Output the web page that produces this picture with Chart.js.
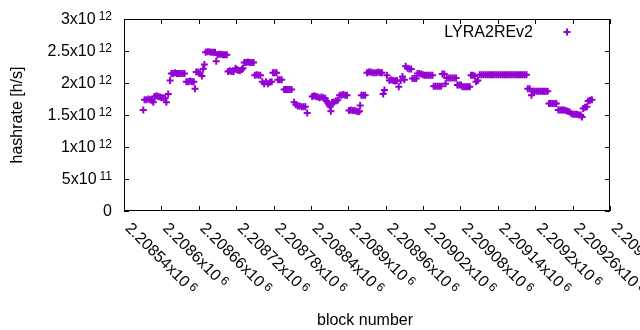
<!DOCTYPE html>
<html>
<head>
<meta charset="utf-8">
<script src="https://cdn.jsdelivr.net/npm/chart.js@4.4.1/dist/chart.umd.min.js"></script>
<style>
  html, body { margin: 0; padding: 0; background: #fff; }
  #wrap { width: 640px; height: 330px; }
</style>
</head>
<body>
<div id="wrap"><canvas id="hashChart" width="640" height="330"></canvas></div>
<script>
// block numbers (x) and hashrate in units of 10^12 h/s (y)
var blockNumbers = [
  2208571, 2208573, 2208576, 2208579, 2208582, 2208585, 2208587, 2208589, 2208592, 2208595, 2208598,
  2208600, 2208603, 2208606, 2208608, 2208611, 2208614,
  2208616, 2208619, 2208622, 2208625, 2208628, 2208631, 2208634, 2208637,
  2208640, 2208643, 2208646, 2208649, 2208652, 2208654,
  2208656, 2208659, 2208662, 2208665, 2208667, 2208669,
  2208671, 2208674, 2208677, 2208680, 2208683, 2208686, 2208688,
  2208690, 2208693, 2208696, 2208699, 2208702, 2208705,
  2208707, 2208710, 2208713, 2208716, 2208719, 2208721,
  2208723, 2208726, 2208729, 2208731,
  2208733, 2208736, 2208739, 2208742, 2208745, 2208748,
  2208750, 2208753, 2208756, 2208759,
  2208762, 2208765, 2208768, 2208771, 2208774, 2208777,
  2208779, 2208782, 2208785, 2208787, 2208790, 2208793,
  2208797, 2208800, 2208803, 2208806, 2208809,
  2208813, 2208816, 2208819, 2208822, 2208825, 2208828, 2208831, 2208834,
  2208842, 2208845, 2208848, 2208851, 2208854, 2208857, 2208860, 2208863,
  2208865, 2208867, 2208869, 2208871, 2208872,
  2208874, 2208877, 2208880, 2208883,
  2208886, 2208889, 2208892, 2208895, 2208898,
  2208901, 2208904, 2208907, 2208910, 2208913, 2208916, 2208918,
  2208919, 2208921, 2208924, 2208927,
  2208930, 2208933, 2208936, 2208939, 2208942, 2208945, 2208948, 2208951, 2208954,
  2208956, 2208958, 2208962,
  2208966, 2208969, 2208972, 2208975, 2208978, 2208981, 2208984, 2208987, 2208990,
  2208992, 2208995, 2208998, 2209001,
  2209003, 2209006, 2209009,
  2209011, 2209014, 2209017, 2209020, 2209023, 2209026, 2209029, 2209032, 2209035,
  2209037, 2209040, 2209043, 2209046, 2209049,
  2209051, 2209054, 2209056,
  2209058, 2209061, 2209064, 2209067, 2209070, 2209073,
  2209075, 2209078, 2209081,
  2209083, 2209086, 2209089, 2209092, 2209095,
  2209097, 2209100, 2209103, 2209105, 2209108,
  2209111, 2209114, 2209117, 2209120, 2209123, 2209126, 2209129, 2209132, 2209135, 2209138, 2209141, 2209144, 2209147,
  2209150, 2209153, 2209156, 2209159, 2209162, 2209165, 2209168, 2209171, 2209174, 2209177, 2209180, 2209183, 2209186,
  2209188, 2209191, 2209194,
  2209196, 2209199, 2209202, 2209205, 2209208, 2209211, 2209214, 2209217, 2209220,
  2209222, 2209225, 2209228, 2209231, 2209234,
  2209237, 2209240, 2209243, 2209246,
  2209249, 2209252, 2209255, 2209258, 2209261, 2209264, 2209267,
  2209270, 2209273, 2209275, 2209277, 2209280, 2209283,
  2209285, 2209288, 2209291
];

var hashrateTH = [
  1.58, 1.74, 1.74, 1.75, 1.74, 1.73, 1.70, 1.79, 1.80, 1.79, 1.78,
  1.77, 1.77, 1.76, 1.70, 1.83, 2.04,
  2.15, 2.15, 2.16, 2.15, 2.15, 2.15, 2.15, 2.15,
  2.02, 2.02, 2.03, 2.02, 2.02, 1.91,
  2.17, 2.17, 2.15, 2.11, 2.22, 2.29,
  2.48, 2.49, 2.49, 2.48, 2.48, 2.48, 2.34,
  2.44, 2.45, 2.45, 2.44, 2.44, 2.44,
  2.18, 2.19, 2.18, 2.18, 2.23, 2.21,
  2.20, 2.19, 2.21, 2.23,
  2.32, 2.32, 2.33, 2.32, 2.32, 2.32,
  2.12, 2.13, 2.12, 2.12,
  2.02, 1.99, 2.02, 1.99, 2.01, 2.02,
  2.16, 2.16, 2.16, 2.05, 2.05, 2.05,
  1.90, 1.90, 1.90, 1.90, 1.90,
  1.70, 1.66, 1.64, 1.64, 1.63, 1.63, 1.63, 1.53,
  1.79, 1.80, 1.79, 1.78, 1.77, 1.78, 1.77, 1.76,
  1.72, 1.69, 1.66, 1.63, 1.56,
  1.70, 1.70, 1.72, 1.73,
  1.81, 1.81, 1.82, 1.81, 1.81,
  1.57, 1.58, 1.57, 1.57, 1.56, 1.55, 1.56,
  1.65, 1.81, 1.81, 1.81,
  2.16, 2.17, 2.17, 2.16, 2.16, 2.16, 2.17, 2.16, 2.16,
  1.83, 1.89, 2.12,
  2.04, 2.05, 2.04, 2.03, 2.04, 1.94, 2.04, 2.10, 2.05,
  2.26, 2.23, 2.22, 2.22,
  2.07, 2.07, 2.07,
  2.15, 2.15, 2.14, 2.13, 2.12, 2.12, 2.12, 2.12, 2.12,
  1.95, 1.95, 1.95, 1.95, 1.95,
  2.14, 2.14, 1.99,
  2.08, 2.08, 2.08, 2.08, 2.08, 2.08,
  1.97, 1.97, 1.97,
  1.94, 1.94, 1.94, 1.94, 1.94,
  2.12, 2.12, 2.11, 2.02, 2.04,
  2.13, 2.13, 2.13, 2.13, 2.13, 2.13, 2.13, 2.13, 2.13, 2.13, 2.13, 2.13, 2.13,
  2.13, 2.13, 2.13, 2.13, 2.13, 2.13, 2.13, 2.13, 2.13, 2.13, 2.13, 2.13, 2.13,
  1.91, 1.91, 1.81,
  1.87, 1.87, 1.87, 1.87, 1.87, 1.87, 1.87, 1.87, 1.87,
  1.68, 1.68, 1.68, 1.68, 1.68,
  1.58, 1.58, 1.58, 1.58,
  1.57, 1.56, 1.55, 1.52, 1.51, 1.51, 1.51,
  1.50, 1.50, 1.47, 1.60, 1.62, 1.63,
  1.72, 1.73, 1.74
];

// tick positions and labels (mantissa + superscript exponent)
var xTickValues = [2208540, 2208600, 2208660, 2208720, 2208780, 2208840, 2208900,
                   2208960, 2209020, 2209080, 2209140, 2209200, 2209260, 2209320];
var xTickMant = ['2.20854x10', '2.2086x10', '2.20866x10', '2.20872x10', '2.20878x10', '2.20884x10', '2.2089x10',
                 '2.20896x10', '2.20902x10', '2.20908x10', '2.20914x10', '2.2092x10', '2.20926x10', '2.20932x10'];
var xTickExp = '6';

var yTickValues = [0, 5e11, 1e12, 1.5e12, 2e12, 2.5e12, 3e12];
var yTickMant = ['0', '5x10', '1x10', '1.5x10', '2x10', '2.5x10', '3x10'];
var yTickExp = ['', '11', '12', '12', '12', '12', '12'];

var seriesName = 'LYRA2REv2';
var xTitle = 'block number';
var yTitle = 'hashrate [h/s]';
var seriesColor = '#9400D3';

var FONT = '"Liberation Sans", Arial, sans-serif';

// draws "mantissa" + raised exponent, starting at x (or ending at x when alignRight)
function drawPowerText(ctx, mant, exp, x, y, alignRight) {
    ctx.font = '16px ' + FONT;
    var mw = ctx.measureText(mant).width;
    ctx.font = '12px ' + FONT;
    var ew = exp ? ctx.measureText(exp).width + 3 : 0;
    var start = alignRight ? x - mw - ew : x;
    ctx.textAlign = 'left';
    ctx.textBaseline = 'alphabetic';
    ctx.font = '16px ' + FONT;
    ctx.fillText(mant, start, y);
    if (exp) {
        ctx.font = '12px ' + FONT;
        ctx.fillText(exp, start + mw + 3, y - 4);
    }
}

// gnuplot-like frame, inward ticks, labels, titles and key
var gnuplotFrame = {
    id: 'gnuplotFrame',
    afterDraw: function(chart) {
        var ctx = chart.ctx;
        var ca = chart.chartArea;
        var xs = chart.scales.x;
        var ys = chart.scales.y;
        ctx.save();

        ctx.strokeStyle = '#000';
        ctx.lineWidth = 1;
        ctx.beginPath();
        ctx.rect(ca.left + 0.5, ca.top + 0.5, ca.right - ca.left - 1, ca.bottom - ca.top - 1);
        yTickValues.forEach(function(v) {
            var py = Math.round(ys.getPixelForValue(v)) + 0.5;
            ctx.moveTo(ca.left, py); ctx.lineTo(ca.left + 5, py);
            ctx.moveTo(ca.right, py); ctx.lineTo(ca.right - 5, py);
        });
        xTickValues.forEach(function(v) {
            var px = Math.round(xs.getPixelForValue(v)) + 0.5;
            ctx.moveTo(px, ca.bottom); ctx.lineTo(px, ca.bottom - 5);
            ctx.moveTo(px, ca.top); ctx.lineTo(px, ca.top + 5);
        });
        ctx.stroke();

        ctx.fillStyle = '#000';
        // y tick labels
        yTickValues.forEach(function(v, i) {
            var py = ys.getPixelForValue(v);
            drawPowerText(ctx, yTickMant[i], yTickExp[i], 112, py + 5, true);
        });
        // x tick labels, rotated by -45 deg (gnuplot sense)
        xTickValues.forEach(function(v, i) {
            var px = xs.getPixelForValue(v);
            ctx.save();
            ctx.translate(px + 0.5, 229);
            ctx.rotate(Math.PI / 4);
            drawPowerText(ctx, xTickMant[i], xTickExp, 0, 0, false);
            ctx.restore();
        });

        // axis titles
        ctx.font = '16px ' + FONT;
        ctx.textAlign = 'center';
        ctx.textBaseline = 'alphabetic';
        ctx.fillText(xTitle, 365, 325);
        ctx.save();
        ctx.translate(22, (ca.top + ca.bottom) / 2);
        ctx.rotate(-Math.PI / 2);
        ctx.fillText(yTitle, 0, 0);
        ctx.restore();

        // key
        ctx.textAlign = 'right';
        ctx.fillText(seriesName, 533, 37);
        ctx.strokeStyle = seriesColor;
        ctx.lineWidth = 2;
        ctx.beginPath();
        ctx.moveTo(563.5, 32); ctx.lineTo(570.5, 32);
        ctx.moveTo(567, 28.5); ctx.lineTo(567, 35.5);
        ctx.stroke();

        ctx.restore();
    }
};

var points = blockNumbers.map(function(b, i) {
    return { x: b, y: hashrateTH[i] * 1e12 };
});

var ctx = document.getElementById('hashChart').getContext('2d');
var hashChart = new Chart(ctx, {
    type: 'scatter',
    data: {
        datasets: [{
            label: seriesName,
            data: points,
            showLine: false,
            pointStyle: 'cross',
            pointRadius: 3.5,
            pointBorderWidth: 2,
            borderWidth: 2,
            borderColor: seriesColor,
            backgroundColor: seriesColor,
            pointBorderColor: seriesColor
        }]
    },
    options: {
        responsive: false,
        animation: false,
        devicePixelRatio: 1,
        layout: { padding: { top: 19, right: 30, left: 0, bottom: 0 } },
        plugins: {
            legend: { display: false },
            tooltip: { enabled: false }
        },
        scales: {
            x: {
                type: 'linear',
                min: 2208540,
                max: 2209320,
                grid: { display: false },
                border: { display: false },
                ticks: { display: false },
                afterFit: function(scale) { scale.height = 119; }
            },
            y: {
                min: 0,
                max: 3e12,
                grid: { display: false },
                border: { display: false },
                ticks: { display: false, stepSize: 5e11 },
                afterFit: function(scale) { scale.width = 124; }
            }
        }
    },
    plugins: [gnuplotFrame]
});
</script>
</body>
</html>
